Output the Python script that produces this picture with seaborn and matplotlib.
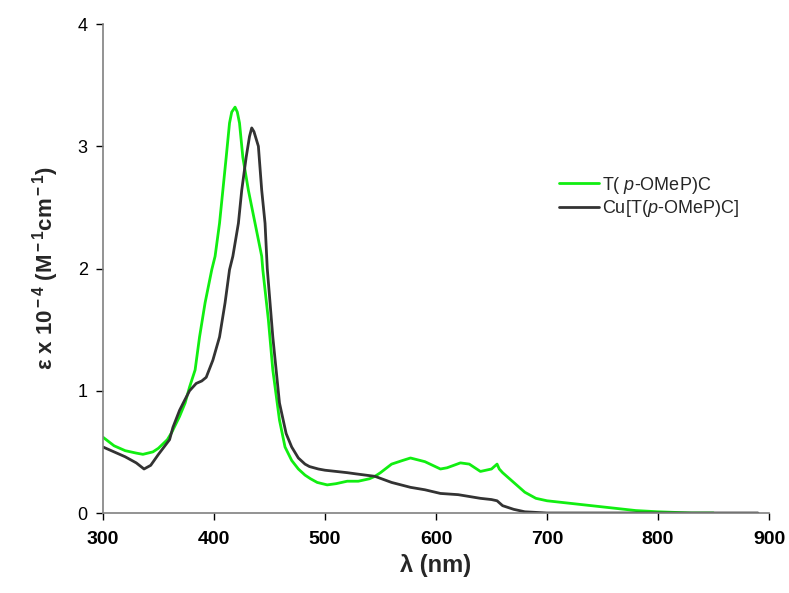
import matplotlib; matplotlib.use('Agg')
import pandas as pd
import numpy as np
import seaborn as sns
import matplotlib.pyplot as plt

# spectrum of the free-base corrole
wl_free = [300, 310, 320, 330, 336, 345, 350, 358, 362, 369, 374, 378, 383, 387, 392,
           398, 401, 405, 408, 411, 414, 416, 419, 421, 423, 426, 431, 437, 443, 444,
           449, 453, 459, 464, 470, 476, 482, 487, 493, 502, 510, 520, 530, 540, 545,
           550, 560, 570, 577, 590, 604, 610, 622, 630, 640, 650, 655, 657, 660, 670,
           680, 690, 700, 720, 740, 760, 780, 800, 830, 850]
eps_free = [0.62, 0.55, 0.51, 0.49, 0.48, 0.50, 0.53, 0.60, 0.66, 0.79, 0.90, 1.03, 1.17, 1.44, 1.72,
            1.99, 2.10, 2.37, 2.64, 2.91, 3.19, 3.28, 3.32, 3.28, 3.19, 2.91, 2.64, 2.37, 2.10, 1.99,
            1.58, 1.17, 0.76, 0.54, 0.43, 0.36, 0.31, 0.28, 0.25, 0.23, 0.24, 0.26, 0.26, 0.28, 0.30,
            0.33, 0.40, 0.43, 0.45, 0.42, 0.36, 0.37, 0.41, 0.40, 0.34, 0.36, 0.40, 0.36, 0.33, 0.25,
            0.17, 0.12, 0.10, 0.08, 0.06, 0.04, 0.02, 0.01, 0.0, 0.0]

# spectrum of the copper complex
wl_cu = [300, 310, 320, 330, 337, 343, 350, 360, 363, 369, 374, 378, 384, 389, 393,
         399, 405, 410, 414, 417, 422, 425, 429, 432, 434, 436, 440, 443, 446, 448,
         453, 459, 465, 470, 476, 482, 486, 494, 500, 520, 528, 545, 560,
         577, 590, 604, 620, 640, 650, 655, 660, 670, 680, 700, 750, 800, 850, 890]
eps_cu = [0.54, 0.50, 0.46, 0.41, 0.36, 0.39, 0.48, 0.60, 0.70, 0.84, 0.93, 1.00, 1.06, 1.08, 1.11,
          1.25, 1.44, 1.72, 1.99, 2.10, 2.37, 2.64, 2.91, 3.08, 3.15, 3.12, 3.00, 2.64, 2.37, 2.00,
          1.44, 0.90, 0.65, 0.54, 0.45, 0.40, 0.38, 0.36, 0.35, 0.33, 0.32, 0.30, 0.25,
          0.21, 0.19, 0.16, 0.15, 0.12, 0.11, 0.10, 0.06, 0.03, 0.01, 0.0, 0.0, 0.0, 0.0, 0.0]

labels = ['T( $p$-OMeP)C', 'Cu[T($p$-OMeP)C]']
colors = ['#11ee11', '#333333']

df = pd.concat([
    pd.DataFrame({'wl': wl_free, 'eps': eps_free, 'compound': labels[0]}),
    pd.DataFrame({'wl': wl_cu, 'eps': eps_cu, 'compound': labels[1]}),
])

sns.set_style('ticks')
plt.rcParams['font.family'] = ['Liberation Sans', 'DejaVu Sans']
plt.rcParams['mathtext.fontset'] = 'custom'
plt.rcParams['mathtext.it'] = 'Liberation Sans:italic'
plt.rcParams['mathtext.rm'] = 'Liberation Sans'
plt.rcParams['mathtext.bf'] = 'Liberation Sans:bold'

fig = plt.figure(figsize=(7.89, 5.93), dpi=100)
ax = fig.add_axes([0.1305, 0.1349, 0.8442, 0.8246])

sns.lineplot(data=df, x='wl', y='eps', hue='compound', palette=colors,
             hue_order=labels, linewidth=2, ax=ax, sort=False)

ax.set_xlim(300, 900)
ax.set_ylim(0, 4)
ax.set_xticks(range(300, 901, 100))
ax.set_yticks(range(0, 5))
for s in ['top', 'right']:
    ax.spines[s].set_visible(False)
for s in ['left', 'bottom']:
    ax.spines[s].set_color('#808080')
    ax.spines[s].set_linewidth(1.2)
ax.tick_params(axis='both', colors='#000000', length=5, width=1)
ax.tick_params(axis='x', labelsize=14, pad=8)
ax.tick_params(axis='y', labelsize=13, pad=6)
for t in ax.get_xticklabels():
    t.set_fontweight('bold')

ax.set_xlabel('λ (nm)', fontsize=17, fontweight='bold', labelpad=4)
ax.set_ylabel(r'ε x 10$^{\bf -4}$ (M$^{\bf -1}$cm$^{\bf -1}$)', fontsize=16,
              fontweight='bold', labelpad=12)

leg = ax.legend(loc='upper left', bbox_to_anchor=(0.66, 0.725), frameon=False,
                fontsize=13, handlelength=2.2, handletextpad=0.2, labelspacing=0.15)
for line in leg.get_lines():
    line.set_linewidth(2)

fig.savefig('out.png', dpi=100)
